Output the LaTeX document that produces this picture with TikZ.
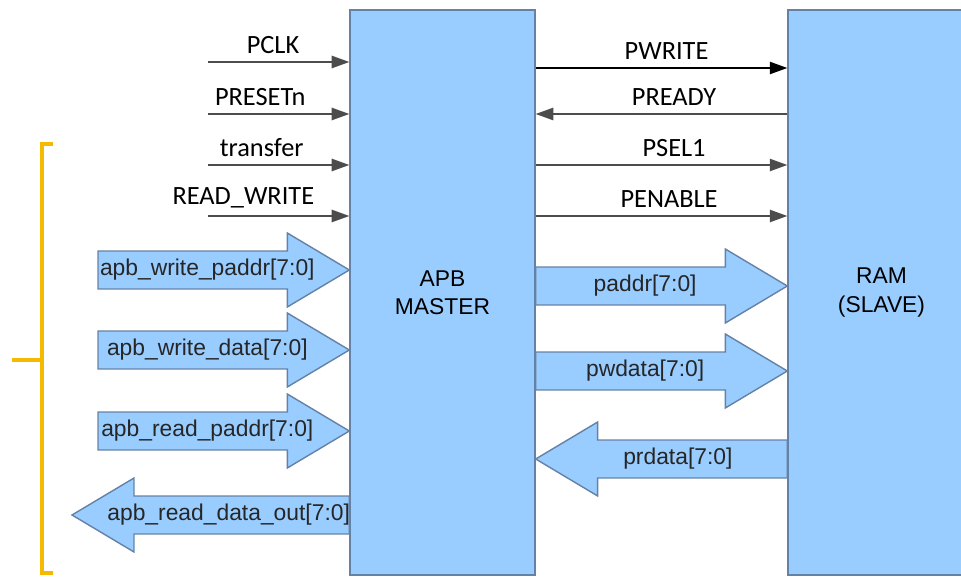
\documentclass[tikz,border=0pt]{standalone}
\usepackage{fontspec}
\setmainfont{Liberation Sans}
\newfontfamily\sigfont{Carlito}
\usetikzlibrary{arrows.meta,calc}
\definecolor{boxblue}{RGB}{153,204,255}
\definecolor{edgeblue}{RGB}{100,130,165}
\definecolor{braceyellow}{RGB}{245,185,0}
\newcommand{\busarrow}[3]{%
	\draw[bus] let \p1=(#1), \p2=(#2), \p3=($(#2)!1.24cm!(#1)$) in
		(\x1,\y1+0.38cm) -- (\x3,\y1+0.38cm) -- (\x3,\y1+0.74cm) -- (\x2,\y1)
		-- (\x3,\y1-0.74cm) -- (\x3,\y1-0.38cm) -- (\x1,\y1-0.38cm) -- cycle;
	\path (#1) -- (#2) node[pos=.435,buslabel] {#3};
}
\begin{document}
\begin{tikzpicture}[x=0.02cm,y=-0.02cm,
	block/.style={draw=edgeblue,fill=boxblue,line width=0.8pt,align=center,font=\fontsize{13}{16}\selectfont},
	sig/.style={draw=black!70,line width=0.9pt,-{Triangle[length=10pt,width=7pt]}},
	siglabel/.style={above=1pt,font=\sigfont\fontsize{15}{18}\selectfont},
	bus/.style={fill=boxblue,draw=edgeblue,line width=0.8pt},
	buslabel/.style={inner sep=0pt,text=black!85,font=\fontsize{13}{15}\selectfont}]
	\useasboundingbox (0,0) rectangle (961,577);
	\node[block,minimum width=3.7cm,minimum height=11.3cm] (master) at (442.5,292.5) {APB\\MASTER};
	\node[block,minimum width=3.74cm,minimum height=11.3cm] (ram) at (881.5,292.5) {RAM\\(SLAVE)};

	\coordinate (pclk) at (208,62);
	\coordinate (presetn) at (208,114);
	\coordinate (transfer) at (208,165);
	\coordinate (rw) at (208,216);
	\draw[sig] (pclk) -- (pclk -| master.west) node[siglabel,pos=.46] {PCLK};
	\draw[sig] (presetn) -- (presetn -| master.west) node[siglabel,pos=.37] {PRESETn};
	\draw[sig] (transfer) -- (transfer -| master.west) node[siglabel,pos=.38] {transfer};
	\draw[sig] (rw) -- (rw -| master.west) node[siglabel,pos=.25] {READ\_WRITE};

	\draw[sig,draw=black] (master.east |- 0,68) -- (ram.west |- 0,68) node[siglabel,pos=.52] {PWRITE};
	\draw[sig] (ram.west |- presetn) -- (master.east |- presetn) node[siglabel,pos=.45] {PREADY};
	\draw[sig] (master.east |- transfer) -- (ram.west |- transfer) node[siglabel,pos=.55] {PSEL1};
	\draw[sig] (master.east |- rw) -- (ram.west |- rw) node[siglabel,pos=.53] {PENABLE};

	\coordinate (wpaddr) at (98,270);
	\coordinate (wdata) at (98,350);
	\coordinate (rpaddr) at (98,431);
	\coordinate (rdout) at (72,515);
	\busarrow{wpaddr}{wpaddr -| master.west}{apb\_write\_paddr[7:0]}
	\busarrow{wdata}{wdata -| master.west}{apb\_write\_data[7:0]}
	\busarrow{rpaddr}{rpaddr -| master.west}{apb\_read\_paddr[7:0]}
	\busarrow{master.west |- rdout}{rdout}{apb\_read\_data\_out[7:0]}

	\busarrow{master.east |- 0,286}{ram.west |- 0,286}{paddr[7:0]}
	\busarrow{master.east |- 0,371}{ram.west |- 0,371}{pwdata[7:0]}
	\busarrow{ram.west |- 0,459}{master.east |- 0,459}{prdata[7:0]}

	\draw[braceyellow,line width=2pt] (53,144) -| (42,573) -- (53,573) (42,360) -- (12,360);
\end{tikzpicture}
\end{document}
